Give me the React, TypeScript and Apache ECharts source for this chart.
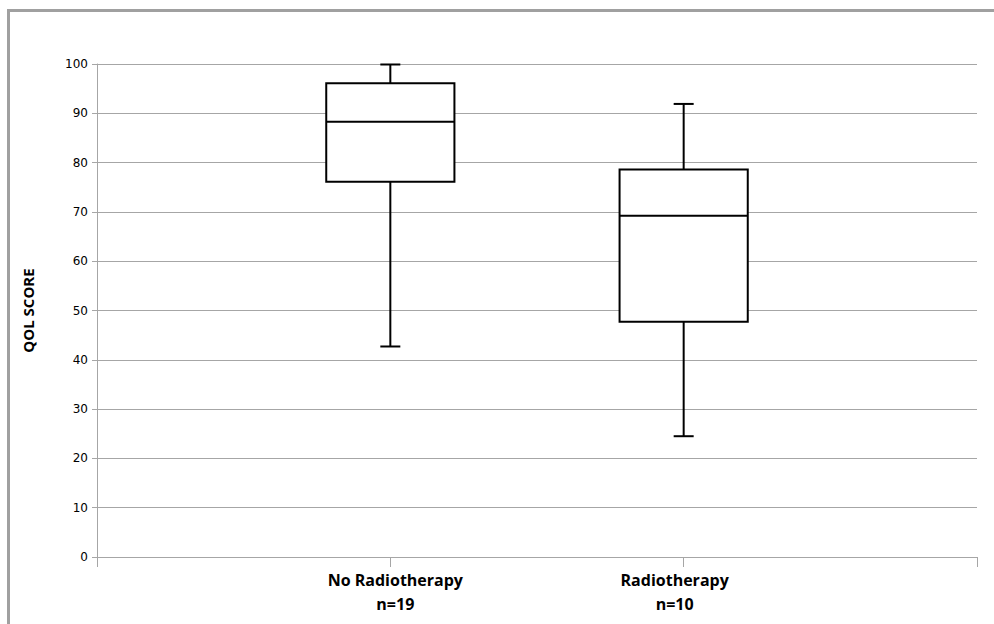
import React, { useEffect, useRef } from "react";
import * as echarts from "echarts";

const categories = ["", "No Radiotherapy", "Radiotherapy", ""];
const sampleSizes = ["", "n=19", "n=10", ""];
const boxCategoryIndex = [1, 2];
const minimums = [42.7, 24.5];
const lowerQuartiles = [76.1, 47.7];
const medians = [88.3, 69.2];
const upperQuartiles = [96.1, 78.6];
const maximums = [99.9, 91.9];
const yTicks = [0, 10, 20, 30, 40, 50, 60, 70, 80, 90, 100];

export default function App() {
  const ref = useRef<HTMLDivElement>(null);
  useEffect(() => {
    if (!ref.current) return;
    const chart = echarts.init(ref.current, null, { renderer: "svg" });
    const data = boxCategoryIndex.map((c, i) => [
      c,
      minimums[i],
      lowerQuartiles[i],
      medians[i],
      upperQuartiles[i],
      maximums[i],
    ]);
    const gridColor = "#a6a6a6";
    const labelFont = {
      fontFamily: "Open Sans",
      fontWeight: "bold",
      fontSize: 16,
      lineHeight: 24,
      color: "#000",
    };
    chart.setOption({
      animation: false,
      backgroundColor: "#ffffff",
      graphic: [
        {
          type: "rect",
          left: 6,
          top: 8,
          shape: { width: 1100, height: 800 },
          style: { fill: "none", stroke: "#a0a0a0", lineWidth: 3 },
          silent: true,
        },
      ],
      grid: { left: 97, right: 17, top: 64, bottom: 67, containLabel: false },
      xAxis: {
        type: "category",
        data: categories,
        boundaryGap: false,
        axisLine: { show: true, lineStyle: { color: gridColor, width: 1 } },
        axisTick: { show: true, length: 10, interval: 0, lineStyle: { color: gridColor } },
        axisLabel: {
          interval: 0,
          margin: 11,
          ...labelFont,
          rich: {
            a: { ...labelFont, padding: [0, 0, 0, 10] },
            b: { ...labelFont, padding: [0, 18, 0, 0] },
          },
          formatter: (v: string, idx: number) => {
            if (!v) return "";
            const k = idx === 1 ? "a" : "b";
            return `{${k}|${v}}\n{${k}|${sampleSizes[idx]}}`;
          },
        },
        splitLine: { show: false },
      },
      yAxis: {
        type: "value",
        min: yTicks[0],
        max: yTicks[yTicks.length - 1],
        interval: 10,
        name: "QOL SCORE",
        nameLocation: "middle",
        nameGap: 62,
        nameTextStyle: {
          fontFamily: "Open Sans",
          fontWeight: "bold",
          fontSize: 15,
          color: "#000",
        },
        axisLine: { show: true, lineStyle: { color: gridColor, width: 1 } },
        axisTick: { show: true, length: 5, lineStyle: { color: gridColor } },
        axisLabel: {
          margin: 9,
          fontFamily: "DejaVu Sans",
          fontSize: 12,
          color: "#000",
        },
        splitLine: { show: true, lineStyle: { color: gridColor, width: 1 } },
      },
      series: [
        {
          type: "custom",
          data,
          encode: { x: 0, y: [1, 2, 3, 4, 5] },
          renderItem: (params: any, api: any) => {
            const x = api.value(0);
            const cx = api.coord([x, api.value(3)])[0];
            const yMin = api.coord([x, api.value(1)])[1];
            const yQ1 = api.coord([x, api.value(2)])[1];
            const yMed = api.coord([x, api.value(3)])[1];
            const yQ3 = api.coord([x, api.value(4)])[1];
            const yMax = api.coord([x, api.value(5)])[1];
            const bw = api.size([1, 0])[0] * 0.437;
            const half = bw / 2;
            const cap = 10;
            const ls = { stroke: "#000", lineWidth: 2, fill: "none" };
            return {
              type: "group",
              children: [
                { type: "line", shape: { x1: cx, y1: yQ3, x2: cx, y2: yMax }, style: ls },
                { type: "line", shape: { x1: cx - cap, y1: yMax, x2: cx + cap, y2: yMax }, style: ls },
                { type: "line", shape: { x1: cx, y1: yQ1, x2: cx, y2: yMin }, style: ls },
                { type: "line", shape: { x1: cx - cap, y1: yMin, x2: cx + cap, y2: yMin }, style: ls },
                {
                  type: "rect",
                  shape: { x: cx - half, y: yQ3, width: bw, height: yQ1 - yQ3 },
                  style: { fill: "#fff", stroke: "#000", lineWidth: 2 },
                },
                { type: "line", shape: { x1: cx - half, y1: yMed, x2: cx + half, y2: yMed }, style: ls },
              ],
            };
          },
        },
      ],
    });
    return () => chart.dispose();
  }, []);
  return (
    <div
      ref={ref}
      style={{ position: "fixed", left: 0, top: 0, width: 994, height: 624 }}
    />
  );
}
